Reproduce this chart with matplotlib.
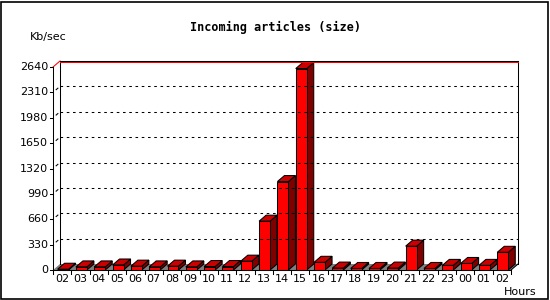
import matplotlib
matplotlib.use("Agg")
import matplotlib.pyplot as plt
from matplotlib.patches import Polygon, Rectangle

hours = ["02", "03", "04", "05", "06", "07", "08", "09", "10", "11", "12", "13",
         "14", "15", "16", "17", "18", "19", "20", "21", "22", "23", "00", "01", "02"]
values = [10, 40, 40, 65, 50, 40, 50, 40, 45, 45, 115, 635,
          1150, 2620, 100, 25, 20, 20, 25, 310, 20, 60, 85, 60, 230]
yticks = [0, 330, 660, 990, 1320, 1650, 1980, 2310, 2640]
title = "Incoming articles (size)"
ylabel = "Kb/sec"
xlabel = "Hours"

W, H = 550, 300
fig = plt.figure(figsize=(W / 100, H / 100), dpi=100)
fig.patch.set_facecolor("white")

n = len(values)
ymax = yticks[-1]
px_cat = 458 / n
px_val = 203 / ymax
dx = 7 / px_cat
dy = 6 / px_val

left_px, bottom_px = 53, 270
ax_w = (n + dx) * px_cat
ax_h = (ymax + dy) * px_val
ax = fig.add_axes([left_px / W, (H - bottom_px) / H, ax_w / W, ax_h / H])
ax.set_xlim(0, n + dx)
ax.set_ylim(0, ymax + dy)
ax.axis("off")

LW = 0.75
kw = dict(clip_on=False)
onepx = 1 / px_val
# back wall frame
ax.plot([dx, dx], [dy, ymax + dy], color="black", lw=LW, **kw)
ax.plot([n + dx, n + dx], [dy, ymax + dy], color="black", lw=LW, **kw)
ax.plot([dx, n + dx], [ymax + dy - onepx, ymax + dy - onepx], color="red", lw=LW, **kw)
ax.plot([dx, n + dx], [ymax + dy, ymax + dy], color="black", lw=LW, **kw)
ax.plot([0, dx], [ymax, ymax + dy], color="red", lw=LW, **kw)
# front left axis
ax.plot([0, 0], [0, ymax], color="black", lw=LW, **kw)

# gridlines
for v in yticks[1:-1]:
    ax.plot([dx, n + dx], [v + dy, v + dy], color="black", lw=LW,
            ls=(0, (2.5, 3.5)), **kw)
    ax.plot([dx * 0.45, dx * 0.7], [v + dy * 0.45, v + dy * 0.7], color="black", lw=LW, **kw)

# floor
ax.add_patch(Polygon([(0, 0), (n, 0), (n + dx, dy), (dx, dy)], closed=True,
                     facecolor="#808080", edgecolor="none", **kw))

# bars
bw = 0.6
off = 0.25
for i, v in enumerate(values):
    x0 = i + off
    x1 = x0 + bw
    ax.add_patch(Polygon([(x1, 0), (x1 + dx, dy), (x1 + dx, v + dy), (x1, v)], closed=True,
                         facecolor="#800000", edgecolor="black", lw=LW, **kw))
    ax.add_patch(Polygon([(x0, v), (x1, v), (x1 + dx, v + dy), (x0 + dx, v + dy)], closed=True,
                         facecolor="#CC0000", edgecolor="black", lw=LW, **kw))
    ax.add_patch(Rectangle((x0, 0), bw, v, facecolor="#FF0000", edgecolor="black",
                           lw=LW, **kw))

# front bottom axis
ax.plot([0, n], [0, 0], color="black", lw=LW, **kw)
ax.plot([n, n + dx], [0, dy], color="black", lw=LW, **kw)

# ticks and labels
tick_x = 3 / px_cat
tick_y = 4 / px_val
for v in yticks:
    ax.plot([-tick_x, 0], [v, v], color="black", lw=LW, **kw)
    ax.text(-tick_x - 2 / px_cat, v, str(v), ha="right", va="center",
            fontsize=8, family="DejaVu Sans", **kw)
for k in range(n + 1):
    ax.plot([k, k], [0, -tick_y], color="black", lw=LW, **kw)
for i, lab in enumerate(hours):
    ax.text(i + 0.5, -9 / px_val, lab, ha="center", va="center",
            fontsize=8, family="DejaVu Sans", **kw)

fig.text(275 / W, 1 - 27 / H, title, ha="center", va="center",
         fontsize=8.5, fontweight="bold", family="DejaVu Sans Mono")
fig.text(30 / W, 1 - 37 / H, ylabel, ha="left", va="center", fontsize=8,
         family="DejaVu Sans")
fig.text(504 / W, 1 - 292 / H, xlabel, ha="left", va="center", fontsize=8,
         family="DejaVu Sans")

fig.patches.append(Rectangle((0.5 / W, 1.5 / H), 547.5 / W, 297 / H,
                             transform=fig.transFigure, fill=False,
                             edgecolor="black", lw=1.2))

fig.savefig("out.png", dpi=100)
